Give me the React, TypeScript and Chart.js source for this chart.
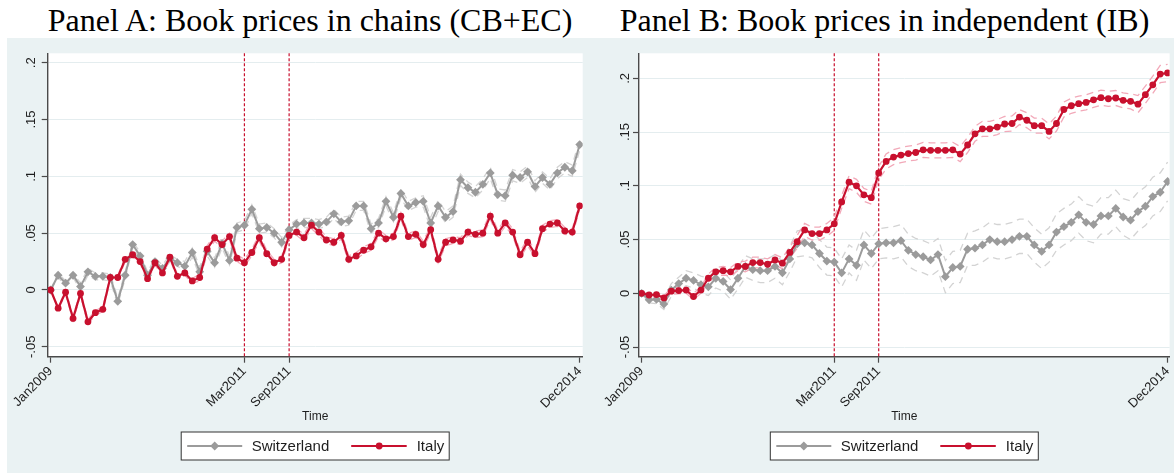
import React, { useEffect, useRef } from "react";
import { Chart, registerables } from "chart.js";

Chart.register(...registerables);

// ---------- labels ----------
const MONTHS = ["Jan", "Feb", "Mar", "Apr", "May", "Jun", "Jul", "Aug", "Sep", "Oct", "Nov", "Dec"];
const YEARS = [2009, 2010, 2011, 2012, 2013, 2014];
const timeLabels: string[] = YEARS.flatMap((y) => MONTHS.map((m) => `${m}${y}`));
const xTickMonths = ["Jan2009", "Mar2011", "Sep2011", "Dec2014"];
const eventMonths = ["Mar2011", "Sep2011"];
const yTickValues = [-0.05, 0, 0.05, 0.1, 0.15, 0.2];
const yTickLabels = ["-.05", "0", ".05", ".1", ".15", ".2"];
const seriesNames = ["Switzerland", "Italy"];
const panelTitles = ["Panel A: Book prices in chains (CB+EC)", "Panel B: Book prices in independent (IB)"];
const xAxisTitle = "Time";

// ---------- Panel A: chains ----------
const switzerlandA = [
  0, 0.013, 0.006, 0.013, 0.003, 0.016, 0.012, 0.012, 0.011, -0.01,
  0.013, 0.04, 0.03, 0.013, 0.025, 0.019, 0.028, 0.024, 0.021, 0.033,
  0.016, 0.034, 0.024, 0.041, 0.026, 0.055, 0.057, 0.071, 0.054, 0.055,
  0.05, 0.042, 0.053, 0.058, 0.059, 0.059, 0.058, 0.06, 0.067, 0.06,
  0.061, 0.074, 0.074, 0.054, 0.059, 0.078, 0.064, 0.085, 0.074, 0.077,
  0.078, 0.059, 0.074, 0.064, 0.069, 0.097, 0.09, 0.086, 0.093, 0.103,
  0.084, 0.083, 0.101, 0.099, 0.104, 0.091, 0.099, 0.093, 0.103, 0.108,
  0.105, 0.128,
];
const italyA = [
  0, -0.016, -0.002, -0.025, -0.003, -0.028, -0.02, -0.017, 0.011, 0.011,
  0.027, 0.031, 0.025, 0.01, 0.024, 0.015, 0.029, 0.012, 0.015, 0.008,
  0.011, 0.036, 0.046, 0.04, 0.047, 0.028, 0.024, 0.033, 0.046, 0.032,
  0.024, 0.027, 0.048, 0.051, 0.046, 0.057, 0.051, 0.044, 0.042, 0.048,
  0.027, 0.03, 0.035, 0.038, 0.05, 0.045, 0.047, 0.065, 0.047, 0.049,
  0.04, 0.053, 0.027, 0.042, 0.044, 0.043, 0.051, 0.049, 0.05, 0.065,
  0.05, 0.059, 0.051, 0.031, 0.042, 0.032, 0.054, 0.058, 0.059, 0.052,
  0.051, 0.074,
];
// half-width of the 95% confidence band
const switzerlandACi = [
  0, 0.002, 0.002, 0.002, 0.003, 0.003, 0.003, 0.003, 0.003, 0.003,
  0.003, 0.003, 0.003, 0.003, 0.003, 0.003, 0.003, 0.003, 0.004, 0.004,
  0.004, 0.004, 0.004, 0.004, 0.004, 0.004, 0.004, 0.004, 0.004, 0.004,
  0.004, 0.004, 0.004, 0.004, 0.004, 0.004, 0.004, 0.004, 0.004, 0.004,
  0.004, 0.004, 0.004, 0.004, 0.004, 0.004, 0.004, 0.004, 0.004, 0.004,
  0.005, 0.005, 0.005, 0.005, 0.005, 0.005, 0.005, 0.005, 0.005, 0.005,
  0.005, 0.005, 0.005, 0.005, 0.005, 0.005, 0.005, 0.005, 0.005, 0.005,
  0.005, 0.005,
];
const italyACi = [
  0, 0.001, 0.002, 0.002, 0.002, 0.002, 0.002, 0.002, 0.002, 0.002,
  0.002, 0.002, 0.002, 0.002, 0.002, 0.002, 0.002, 0.002, 0.002, 0.002,
  0.003, 0.003, 0.003, 0.003, 0.003, 0.003, 0.003, 0.003, 0.003, 0.003,
  0.003, 0.003, 0.003, 0.003, 0.003, 0.003, 0.003, 0.003, 0.003, 0.003,
  0.003, 0.003, 0.003, 0.003, 0.003, 0.003, 0.003, 0.003, 0.003, 0.003,
  0.003, 0.003, 0.003, 0.003, 0.003, 0.003, 0.003, 0.003, 0.003, 0.003,
  0.003, 0.003, 0.003, 0.003, 0.003, 0.003, 0.003, 0.003, 0.003, 0.003,
  0.003, 0.003,
];

// ---------- Panel B: independent ----------
const switzerlandB = [
  0, -0.006, -0.0056, -0.01, 0.003, 0.009, 0.014, 0.012, 0.008, 0.006,
  0.014, 0.011, 0.0035, 0.014, 0.025, 0.022, 0.021, 0.021, 0.025, 0.019,
  0.032, 0.046, 0.047, 0.045, 0.037, 0.03, 0.029, 0.019, 0.032, 0.026,
  0.045, 0.037, 0.046, 0.047, 0.047, 0.049, 0.04, 0.036, 0.034, 0.031,
  0.036, 0.0155, 0.024, 0.025, 0.041, 0.042, 0.045, 0.05, 0.048, 0.048,
  0.05, 0.053, 0.053, 0.045, 0.039, 0.045, 0.057, 0.062, 0.066, 0.073,
  0.066, 0.064, 0.072, 0.072, 0.079, 0.071, 0.068, 0.076, 0.081, 0.09,
  0.094, 0.104,
];
const italyB = [
  0, -0.0016, -0.0012, -0.0043, 0.002, 0.0025, 0.003, -0.003, 0.003, 0.014,
  0.02, 0.021, 0.02, 0.025, 0.025, 0.0286, 0.0286, 0.027, 0.031, 0.028,
  0.038, 0.048, 0.059, 0.0556, 0.0556, 0.059, 0.0646, 0.085, 0.1034, 0.1,
  0.0916, 0.089, 0.112, 0.1227, 0.1267, 0.1286, 0.13, 0.131, 0.1335, 0.133,
  0.133, 0.133, 0.1335, 0.1295, 0.138, 0.1484, 0.153, 0.153, 0.1547, 0.1575,
  0.158, 0.164, 0.161, 0.156, 0.156, 0.1506, 0.158, 0.171, 0.1745, 0.1764,
  0.1776, 0.18, 0.182, 0.181, 0.1817, 0.1795, 0.1786, 0.176, 0.1848, 0.194,
  0.204, 0.205,
];
const switzerlandBCi = [
  0, 0.003, 0.004, 0.005, 0.006, 0.006, 0.007, 0.007, 0.008, 0.008,
  0.009, 0.009, 0.009, 0.01, 0.01, 0.01, 0.011, 0.011, 0.011, 0.011,
  0.012, 0.012, 0.012, 0.012, 0.013, 0.013, 0.013, 0.013, 0.013, 0.014,
  0.014, 0.014, 0.014, 0.014, 0.015, 0.015, 0.015, 0.015, 0.015, 0.015,
  0.015, 0.015, 0.015, 0.015, 0.015, 0.016, 0.016, 0.016, 0.016, 0.016,
  0.016, 0.016, 0.016, 0.016, 0.016, 0.016, 0.017, 0.017, 0.017, 0.017,
  0.017, 0.017, 0.017, 0.017, 0.017, 0.017, 0.018, 0.018, 0.018, 0.018,
  0.018, 0.018,
];
const italyBCi = [
  0, 0.002, 0.002, 0.002, 0.003, 0.003, 0.003, 0.003, 0.003, 0.004,
  0.004, 0.004, 0.004, 0.004, 0.005, 0.005, 0.005, 0.005, 0.005, 0.005,
  0.005, 0.006, 0.006, 0.006, 0.006, 0.006, 0.006, 0.006, 0.006, 0.006,
  0.006, 0.006, 0.006, 0.007, 0.007, 0.007, 0.007, 0.007, 0.007, 0.007,
  0.007, 0.007, 0.007, 0.007, 0.007, 0.007, 0.007, 0.007, 0.007, 0.007,
  0.007, 0.007, 0.007, 0.007, 0.007, 0.007, 0.007, 0.007, 0.007, 0.007,
  0.007, 0.007, 0.007, 0.007, 0.007, 0.007, 0.007, 0.008, 0.008, 0.008,
  0.008, 0.008,
];

// ---------- styles ----------
const RED = "#c8102e";
const RED_CI = "#f2a9b9";
const GRAY = "#9b9b9b";
const GRAY_CI = "#d3d3d3";
const AXIS = "#4a4a4a";
const GRID = "#e4edef";
const TEXT = "#1e1e1e";
const BG = "#eaf2f3";
const SANS = "'Liberation Sans', Arial, sans-serif";
const SERIF = "'Liberation Serif', 'Times New Roman', serif";

Chart.defaults.font.family = SANS;
Chart.defaults.color = TEXT;

type Geo = {
  left: number; top: number; width: number; height: number;
  padTop: number; padRight: number; padBottom: number;
  yWidth: number; xHeight: number; yPad: number;
  yMin: number; yMax: number; xMin: number; xMax: number;
  titleCenter: number;
};

const geoA: Geo = {
  left: 7, top: 38, width: 583, height: 435,
  padTop: 15.3, padRight: 7.3, padBottom: 49,
  yWidth: 40.7, xHeight: 67.3, yPad: -1.2,
  yMin: -0.0587, yMax: 0.2083, xMin: -0.4, xMax: 71.4,
  titleCenter: 310,
};
const geoB: Geo = {
  left: 590, top: 38, width: 584, height: 435,
  padTop: 15.3, padRight: 2, padBottom: 49,
  yWidth: 49, xHeight: 67.3, yPad: -3.2,
  yMin: -0.059, yMax: 0.2233, xMin: -0.36, xMax: 71.27,
  titleCenter: 884.5,
};

const decorPlugin = {
  id: "panelDecor",
  beforeDraw(chart: any) {
    const { ctx, chartArea: a } = chart;
    ctx.save();
    ctx.fillStyle = "#ffffff";
    ctx.fillRect(a.left, a.top, a.right - a.left, a.bottom - a.top);
    ctx.restore();
  },
  beforeDatasetsDraw(chart: any) {
    const { ctx, chartArea: a } = chart;
    const xs = chart.scales.x;
    ctx.save();
    ctx.strokeStyle = RED;
    ctx.lineWidth = 1.2;
    ctx.setLineDash([3, 2]);
    eventMonths.forEach((m) => {
      const px = xs.getPixelForValue(timeLabels.indexOf(m));
      ctx.beginPath();
      ctx.moveTo(px, a.top);
      ctx.lineTo(px, a.bottom);
      ctx.stroke();
    });
    ctx.restore();
  },
  afterDraw(chart: any) {
    const { ctx, chartArea: a } = chart;
    const cx = (a.left + a.right) / 2;
    const top = a.bottom + 75.3;
    const h = 28;
    const cy = top + h / 2;
    ctx.save();
    ctx.fillStyle = "#ffffff";
    ctx.fillRect(cx - 134, top, 268, h);
    ctx.strokeStyle = "#333333";
    ctx.lineWidth = 1;
    ctx.strokeRect(cx - 134, top, 268, h);
    // Switzerland
    ctx.strokeStyle = GRAY;
    ctx.lineWidth = 2;
    ctx.beginPath();
    ctx.moveTo(cx - 128, cy);
    ctx.lineTo(cx - 73, cy);
    ctx.stroke();
    ctx.fillStyle = GRAY;
    ctx.beginPath();
    const dx = cx - 100.5;
    ctx.moveTo(dx, cy - 4.5);
    ctx.lineTo(dx + 4.5, cy);
    ctx.lineTo(dx, cy + 4.5);
    ctx.lineTo(dx - 4.5, cy);
    ctx.closePath();
    ctx.fill();
    // Italy
    ctx.strokeStyle = RED;
    ctx.beginPath();
    ctx.moveTo(cx + 36, cy);
    ctx.lineTo(cx + 91.5, cy);
    ctx.stroke();
    ctx.fillStyle = RED;
    ctx.beginPath();
    ctx.arc(cx + 64, cy, 3.4, 0, Math.PI * 2);
    ctx.fill();
    // text
    ctx.fillStyle = TEXT;
    ctx.font = `15px ${SANS}`;
    ctx.textBaseline = "middle";
    ctx.textAlign = "left";
    ctx.fillText(seriesNames[0], cx - 63.5, cy + 0.5);
    ctx.fillText(seriesNames[1], cx + 101.5, cy + 0.5);
    ctx.restore();
  },
};

function buildConfig(swiss: number[], swissCi: number[], italy: number[], italyCi: number[], geo: Geo): any {
  const pts = (arr: number[]) => arr.map((v, i) => ({ x: i, y: v }));
  const band = (arr: number[], ci: number[], sign: number) => arr.map((v, i) => ({ x: i, y: v + sign * ci[i] }));
  const ciStyle = (color: string) => ({
    borderColor: color,
    borderWidth: 1.3,
    borderDash: [7, 5],
    pointRadius: 0,
    fill: false,
    tension: 0,
  });
  return {
    type: "line",
    data: {
      datasets: [
        {
          label: seriesNames[1], data: pts(italy), borderColor: RED, backgroundColor: RED,
          borderWidth: 2.2, pointRadius: 3.4, pointStyle: "circle", pointBorderWidth: 0,
          pointBackgroundColor: RED, tension: 0,
        },
        {
          label: seriesNames[0], data: pts(swiss), borderColor: GRAY, backgroundColor: GRAY,
          borderWidth: 2, pointRadius: 4.4, pointStyle: "rectRot", pointBorderWidth: 0,
          pointBackgroundColor: GRAY, tension: 0,
        },
        { label: "Italy upper", data: band(italy, italyCi, 1), ...ciStyle(RED_CI) },
        { label: "Italy lower", data: band(italy, italyCi, -1), ...ciStyle(RED_CI) },
        { label: "Switzerland upper", data: band(swiss, swissCi, 1), ...ciStyle(GRAY_CI) },
        { label: "Switzerland lower", data: band(swiss, swissCi, -1), ...ciStyle(GRAY_CI) },
      ],
    },
    options: {
      responsive: false,
      animation: false,
      devicePixelRatio: 1,
      events: [],
      layout: { padding: { top: geo.padTop, right: geo.padRight, bottom: geo.padBottom, left: 0 } },
      plugins: { legend: { display: false }, tooltip: { enabled: false }, title: { display: false } },
      scales: {
        x: {
          type: "linear",
          min: geo.xMin,
          max: geo.xMax,
          afterBuildTicks: (s: any) => {
            s.ticks = xTickMonths.map((m) => ({ value: timeLabels.indexOf(m) }));
          },
          afterFit: (s: any) => {
            s.height = geo.xHeight;
            s.paddingLeft = 0;
            s.paddingRight = 0;
          },
          ticks: {
            autoSkip: false,
            minRotation: 45,
            maxRotation: 45,
            padding: 1,
            font: { size: 13 },
            color: TEXT,
            callback: (_v: any, i: number) => xTickMonths[i],
          },
          grid: { drawOnChartArea: false, tickLength: 6, tickColor: AXIS, tickWidth: 1.2 },
          border: { display: true, color: AXIS, width: 1.4 },
          title: { display: true, text: xAxisTitle, font: { size: 12 }, color: TEXT, padding: { top: 0, bottom: 0 } },
        },
        y: {
          type: "linear",
          min: geo.yMin,
          max: geo.yMax,
          afterBuildTicks: (s: any) => {
            s.ticks = yTickValues.map((v) => ({ value: v }));
          },
          afterFit: (s: any) => {
            s.width = geo.yWidth;
          },
          ticks: {
            minRotation: 90,
            maxRotation: 90,
            crossAlign: "center",
            padding: geo.yPad,
            font: { size: 13 },
            color: TEXT,
            callback: (_v: any, i: number) => yTickLabels[i],
          },
          grid: { color: GRID, lineWidth: 1, tickLength: 6, tickColor: AXIS, tickWidth: 1.2 },
          border: { display: true, color: AXIS, width: 1.4 },
        },
      },
    },
    plugins: [decorPlugin],
  };
}

function Panel({ geo, config }: { geo: Geo; config: () => any }) {
  const ref = useRef<HTMLCanvasElement | null>(null);
  useEffect(() => {
    const chart = new Chart(ref.current as HTMLCanvasElement, config());
    return () => chart.destroy();
  }, []);
  return (
    <canvas
      ref={ref}
      width={geo.width}
      height={geo.height}
      style={{ position: "absolute", left: geo.left, top: geo.top, width: geo.width, height: geo.height }}
    />
  );
}

function Title({ text, center }: { text: string; center: number }) {
  return (
    <div
      style={{
        position: "absolute", left: center - 320, width: 640, top: 3, textAlign: "center",
        fontFamily: SERIF, fontSize: 32, lineHeight: "34px", color: "#000", whiteSpace: "nowrap",
      }}
    >
      {text}
    </div>
  );
}

export default function App() {
  return (
    <div style={{ position: "absolute", left: 0, top: 0, width: 1174, height: 473, overflow: "hidden", background: "#ffffff" }}>
      <div style={{ position: "absolute", left: 7, top: 38, width: 1167, height: 435, background: BG }} />
      <Title text={panelTitles[0]} center={geoA.titleCenter} />
      <Title text={panelTitles[1]} center={geoB.titleCenter} />
      <Panel geo={geoA} config={() => buildConfig(switzerlandA, switzerlandACi, italyA, italyACi, geoA)} />
      <Panel geo={geoB} config={() => buildConfig(switzerlandB, switzerlandBCi, italyB, italyBCi, geoB)} />
    </div>
  );
}
